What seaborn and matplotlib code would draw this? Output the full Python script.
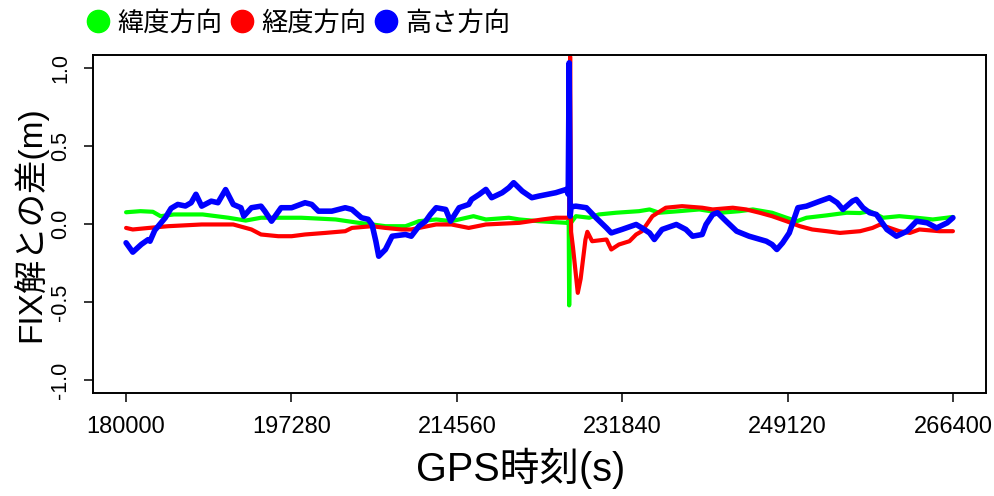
import numpy as np
import pandas as pd
import matplotlib
matplotlib.use("Agg")
import matplotlib.pyplot as plt
from matplotlib.lines import Line2D
import seaborn as sns

# ---------------- data ----------------
series_names = ["緯度方向", "経度方向", "高さ方向"]
series_colors = ["#00FF00", "#FF0000", "#0000FF"]

green_t = [180000, 181500, 182800, 183600, 185000, 188000, 190700, 192500, 194100, 198300,
           201900, 204300, 205700, 207100, 209200, 210600, 212400, 214000, 216300, 217600,
           220000, 221100, 223100, 226000, 226250, 226300, 226400, 227000, 228400, 229400,
           231200, 233600, 234700, 235700, 237800, 239900, 242100, 244100, 245500, 247500,
           249000, 250100, 251100, 253200, 255300, 256700, 257700, 259100, 260800, 262600,
           264300, 266400]
green_v = [0.075, 0.082, 0.078, 0.05, 0.061, 0.061, 0.04, 0.022, 0.04, 0.04,
           0.029, 0.0075, -0.003, -0.014, -0.014, 0.018, 0.029, 0.018, 0.05, 0.029,
           0.04, 0.029, 0.018, 0.0075, 0.02, -0.52, 0.0, 0.05, 0.04, 0.061,
           0.072, 0.082, 0.093, 0.072, 0.082, 0.093, 0.072, 0.082, 0.093, 0.072,
           0.04, 0.018, 0.04, 0.055, 0.072, 0.07, 0.082, 0.04, 0.05, 0.04,
           0.029, 0.045]

red_t = [180000, 180700, 182400, 184400, 187900, 191200, 193100, 194100, 195900, 197300,
         198700, 200800, 202900, 203600, 205700, 207100, 208800, 209800, 212400, 214000,
         215800, 217600, 221100, 223500, 224900, 226000, 226300, 226400, 226500, 226700,
         227200, 227500, 228000, 228200, 228700, 230200, 230700, 231500, 232600, 233300,
         233900, 234400, 235000, 236400, 238100, 240200, 241300, 243400, 244800, 246200,
         247500, 249000, 250400, 251700, 253200, 254600, 256700, 258000, 258800, 259800,
         260800, 261900, 262900, 265000, 266400]
red_v = [-0.025, -0.035, -0.025, -0.014, -0.003, -0.003, -0.035, -0.067, -0.078, -0.078,
         -0.067, -0.057, -0.046, -0.025, -0.014, -0.025, -0.035, -0.035, -0.003, -0.003,
         -0.025, -0.003, 0.0075, 0.029, 0.04, 0.04, 0.04, 1.07, -0.05, -0.15,
         -0.44, -0.35, -0.10, -0.05, -0.11, -0.099, -0.163, -0.131, -0.11, -0.067,
         -0.046, -0.003, 0.05, 0.104, 0.114, 0.104, 0.093, 0.104, 0.093, 0.072,
         0.05, 0.018, -0.014, -0.035, -0.046, -0.057, -0.046, -0.025, -0.003, -0.025,
         -0.046, -0.057, -0.035, -0.046, -0.046]

blue_t = [180000, 180700, 181600, 182300, 182500, 183000, 184100, 184700, 185400, 186200,
          186800, 187300, 187900, 188900, 189600, 190400, 191200, 192000, 192300, 193100,
          194100, 194500, 195200, 196200, 197300, 198700, 199400, 200100, 201500, 202900,
          203600, 204600, 205300, 205700, 206100, 206400, 207100, 207800, 209200, 209800,
          210600, 211300, 211800, 212400, 213400, 213900, 214800, 215800, 216100, 216900,
          217600, 218200, 219300, 220000, 220500, 221400, 222400, 223100, 224900, 226000,
          226200, 226300, 226400, 226500, 227000, 228100, 229100, 230200, 230700, 231800,
          233300, 233900, 234700, 235200, 236000, 237500, 238500, 239200, 240200, 240600,
          241300, 241800, 242700, 243800, 245100, 246900, 247500, 248000, 248600, 249300,
          249600, 250200, 251100, 252500, 253500, 254300, 254900, 255900, 256300, 257000,
          257700, 258400, 259500, 260500, 261600, 262600, 263700, 264700, 265800, 266400]
blue_v = [-0.12, -0.18, -0.13, -0.10, -0.11, -0.04, 0.04, 0.10, 0.125, 0.115,
          0.136, 0.19, 0.114, 0.146, 0.136, 0.22, 0.125, 0.104, 0.05, 0.104,
          0.114, 0.082, 0.018, 0.104, 0.104, 0.136, 0.125, 0.082, 0.082, 0.104,
          0.093, 0.04, 0.03, -0.003, -0.11, -0.206, -0.163, -0.078, -0.067, -0.078,
          -0.014, 0.018, 0.061, 0.104, 0.093, 0.018, 0.104, 0.125, 0.157, 0.189,
          0.221, 0.168, 0.20, 0.232, 0.264, 0.21, 0.168, 0.178, 0.20, 0.221,
          0.19, 1.03, 0.05, 0.11, 0.114, 0.104, 0.04, -0.025, -0.057, -0.035,
          -0.003, -0.025, -0.057, -0.099, -0.035, -0.003, -0.035, -0.078, -0.067, -0.003,
          0.061, 0.072, 0.018, -0.046, -0.078, -0.11, -0.131, -0.163, -0.121, -0.057,
          -0.003, 0.104, 0.114, 0.146, 0.168, 0.136, 0.093, 0.146, 0.157, 0.104,
          0.072, 0.061, -0.035, -0.078, -0.046, 0.018, 0.0075, -0.025, 0.0075, 0.04]

x_ticks = [180000, 197280, 214560, 231840, 249120, 266400]
x_tick_labels = ["180000", "197280", "214560", "231840", "249120", "266400"]
y_ticks = [-1.0, -0.5, 0.0, 0.5, 1.0]
y_tick_labels = ["-1.0", "-0.5", "0.0", "0.5", "1.0"]

df = pd.concat([
    pd.DataFrame({"time": green_t, "value": green_v, "series": series_names[0]}),
    pd.DataFrame({"time": red_t, "value": red_v, "series": series_names[1]}),
    pd.DataFrame({"time": blue_t, "value": blue_v, "series": series_names[2]}),
], ignore_index=True)

# ---------------- style ----------------
sns.set_style("white")
plt.rcParams["font.family"] = ["Liberation Sans", "Noto Sans CJK JP", "DejaVu Sans"]
plt.rcParams["axes.unicode_minus"] = False
plt.rcParams["text.color"] = "black"
plt.rcParams["axes.labelcolor"] = "black"

W, H = 995, 496
fig = plt.figure(figsize=(W / 100, H / 100), dpi=100)
L, R, T, B = 93, 986, 55, 393
ax = fig.add_axes([L / W, 1 - B / H, (R - L) / W, (B - T) / H])

widths = {series_names[0]: 3.0, series_names[1]: 3.0, series_names[2]: 4.0}
for name, col in zip(series_names, series_colors):
    sub = df[df["series"] == name]
    sns.lineplot(data=sub, x="time", y="value", color=col, linewidth=widths[name],
                 estimator=None, sort=False, ax=ax, legend=False)

ax.set_xlim(180000 - 3456, 266400 + 3456)
ax.set_ylim(-1.08, 1.08)
ax.set_xticks(x_ticks)
ax.set_xticklabels(x_tick_labels, fontsize=17)
ax.set_yticks(y_ticks)
ax.set_yticklabels(y_tick_labels, fontsize=15.5, rotation=90, va="center")

for s in ax.spines.values():
    s.set_visible(True)
    s.set_color("black")
    s.set_linewidth(1.4)

ax.tick_params(axis="both", direction="out", length=6.5, width=1.1, color="black",
               labelcolor="black", bottom=True, left=True)
ax.tick_params(axis="x", pad=10)
ax.tick_params(axis="y", pad=9)

ax.set_xlabel("GPS時刻(s)", fontsize=28.5, va="center", color="black")
ax.xaxis.set_label_coords((521 - L) / (R - L), (B - 468) / (B - T))
ax.set_ylabel("FIX解との差(m)", fontsize=24, va="center", color="black")
ax.yaxis.set_label_coords((30 - L) / (R - L), 0.5)

handles = [Line2D([0], [0], marker="o", ls="", color=c, markersize=16) for c in series_colors]
leg = fig.legend(handles, series_names, loc="center left", bbox_to_anchor=(85 / W, 1 - 23 / H),
                 ncol=3, frameon=False, fontsize=18.9, handlelength=1.0, handletextpad=0.22,
                 columnspacing=0.27, borderpad=0, borderaxespad=0)
for t in leg.get_texts():
    t.set_color("black")

fig.savefig("out.png", dpi=100)
